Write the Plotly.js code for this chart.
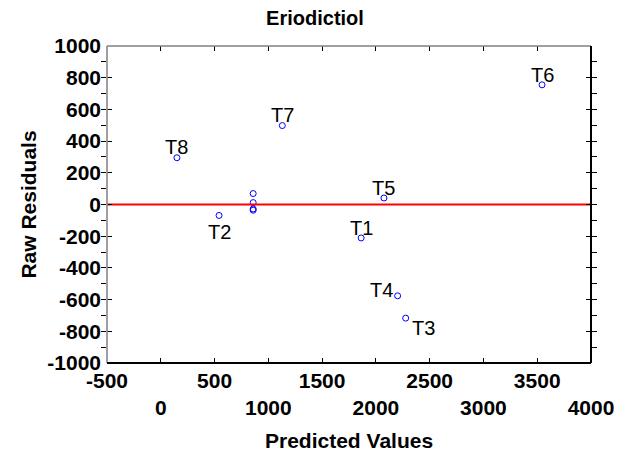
<!DOCTYPE html>
<html>
<head>
<meta charset="utf-8">
<script src="https://cdn.plot.ly/plotly-3.0.1.min.js"></script>
<style>
  html, body { margin: 0; padding: 0; background: #ffffff; }
  #chart { width: 619px; height: 453px; }
</style>
</head>
<body>
<div id="chart"></div>
<script>
// Residuals vs predicted values for Eriodictiol
const pointLabels = ["T8", "T2", "", "", "", "", "T7", "T1", "T5", "T4", "T3", "T6"];
const predicted   = [150, 542, 859, 859, 859, 859, 1130, 1863, 2075, 2202, 2277, 3545];
const residuals   = [295, -69, 69, 12, -28, -36, 498, -211, 41, -576, -717, 755];

// staggered tick labels on two rows
const xTicksRow1 = [-500, 500, 1500, 2500, 3500];
const xTicksRow2 = [0, 1000, 2000, 3000, 4000];
const yTicks     = [-1000, -800, -600, -400, -200, 0, 200, 400, 600, 800, 1000];

const xRange = [-500, 4000];
const yRange = [-1000, 1000];
const zeroLine = [0, 0];

const FONT = "Arial, 'Liberation Sans', sans-serif";

// pixel offsets of each point label from its marker
const labelShift = [[0, 11], [0, -17], [0, 0], [0, 0], [0, 0], [0, 0],
                    [0, 11], [0, 10], [0, 10], [-16, 6], [18, -10], [0, 10]];

const points = {
  type: "scatter",
  mode: "markers",
  x: predicted,
  y: residuals,
  marker: { symbol: "circle-open", size: 6, color: "#0000ff", line: { width: 1, color: "#0000ff" } },
  cliponaxis: false,
  hoverinfo: "x+y",
  xaxis: "x",
  yaxis: "y"
};

const reference = {
  type: "scatter",
  mode: "lines",
  x: xRange,
  y: zeroLine,
  line: { color: "#ff0000", width: 2 },
  hoverinfo: "skip",
  xaxis: "x2",
  yaxis: "y"
};

const labelAnnotations = pointLabels.map((t, i) => ({
  x: predicted[i],
  y: residuals[i],
  xref: "x",
  yref: "y",
  text: t,
  showarrow: false,
  xanchor: "center",
  yanchor: "middle",
  xshift: labelShift[i][0],
  yshift: labelShift[i][1],
  font: { family: FONT, size: 20, color: "#000000" }
})).filter(a => a.text !== "");

const tickFont = { family: FONT, size: 21, color: "#000000", weight: "bold" };

const layout = {
  width: 619,
  height: 453,
  paper_bgcolor: "#ffffff",
  plot_bgcolor: "#ffffff",
  showlegend: false,
  margin: { l: 107, r: 28, t: 46, b: 90 },
  title: {
    text: "<b>Eriodictiol</b>",
    font: { family: FONT, size: 20, color: "#000000" },
    x: 315 / 619,
    xref: "container",
    xanchor: "center",
    y: 1 - 18 / 453,
    yref: "container",
    yanchor: "middle"
  },
  xaxis: {
    range: xRange,
    tickvals: xTicksRow1,
    ticktext: xTicksRow1.map(String),
    ticks: "inside",
    ticklen: 5,
    tickcolor: "#000000",
    mirror: "allticks",
    showline: false,
    showgrid: false,
    zeroline: false,
    ticklabelstandoff: 3,
    tickfont: tickFont
  },
  xaxis2: {
    range: xRange,
    overlaying: "x",
    anchor: "y",
    side: "bottom",
    tickvals: xTicksRow2,
    ticktext: xTicksRow2.map(String),
    ticks: "inside",
    ticklen: 5,
    tickcolor: "#000000",
    mirror: "allticks",
    showline: false,
    showgrid: false,
    zeroline: false,
    ticklabelstandoff: 30,
    tickfont: tickFont
  },
  yaxis: {
    range: yRange,
    tickvals: yTicks,
    ticktext: yTicks.map(String),
    ticks: "inside",
    ticklen: 5,
    tickcolor: "#000000",
    mirror: "allticks",
    showline: false,
    showgrid: false,
    zeroline: false,
    ticklabelstandoff: 5,
    tickfont: tickFont,
    minor: { dtick: 100, ticks: "outside", ticklen: 3, tickcolor: "#000000" },
    title: { text: "<b>Raw Residuals</b>", font: { family: FONT, size: 21, color: "#000000" }, standoff: 4 }
  },
  annotations: [
    {
      text: "<b>Predicted Values</b>",
      xref: "paper", yref: "paper",
      x: 0.5, y: -(440 - 363) / (363 - 46),
      xanchor: "center", yanchor: "middle",
      showarrow: false,
      font: { family: FONT, size: 21, color: "#000000" }
    }
  ].concat(labelAnnotations),
  shapes: [
    // frame: lighter top/left edges, dark bottom/right edges
    { type: "line", xref: "paper", yref: "paper", x0: 0, x1: 0, y0: 0, y1: 1, line: { color: "#808080", width: 1.5 } },
    { type: "line", xref: "paper", yref: "paper", x0: 0, x1: 1, y0: 1, y1: 1, line: { color: "#808080", width: 1.5 } },
    { type: "line", xref: "paper", yref: "paper", x0: 1, x1: 1, y0: 0, y1: 1, line: { color: "#000000", width: 2 } },
    { type: "line", xref: "paper", yref: "paper", x0: 0, x1: 1, y0: 0, y1: 0, line: { color: "#000000", width: 2 } }
  ]
};

Plotly.newPlot("chart", [reference, points], layout, { displayModeBar: false, staticPlot: true });
</script>
</body>
</html>
